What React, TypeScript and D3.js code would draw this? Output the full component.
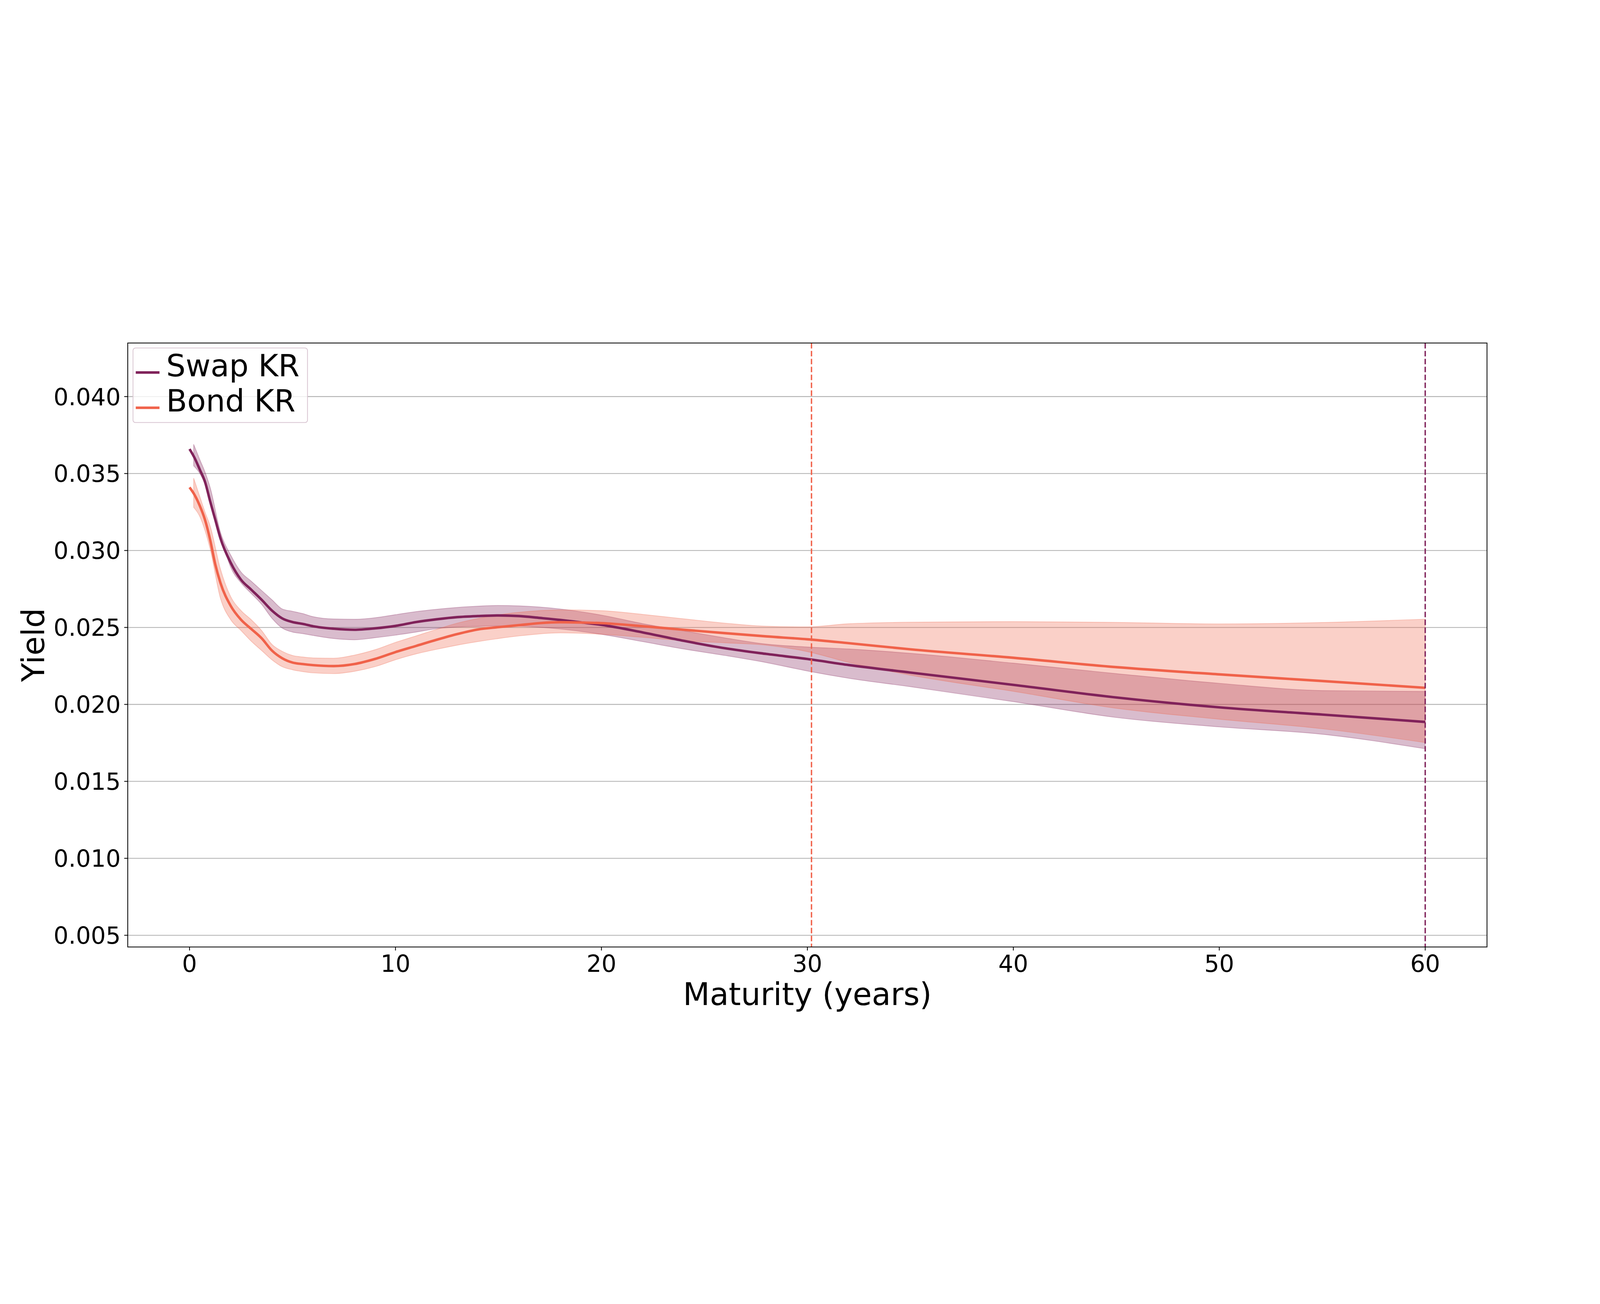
import React from 'react';
import * as d3 from 'd3';

// maturities (years) for the central curves
const lineMaturity = [0, 0.25, 0.5, 0.75, 1, 1.25, 1.5, 2, 2.5, 3, 3.5, 4, 4.5, 5, 5.5, 6, 7, 8, 9, 10, 11, 12, 13, 14, 15, 16, 17, 18, 19, 20, 22, 24, 26, 28, 30, 32, 35, 40, 45, 50, 55, 60];
const swapYield = [0.03659, 0.0360, 0.03525, 0.03447, 0.0332, 0.0320, 0.0308, 0.0292, 0.0281, 0.02745, 0.0268, 0.0261, 0.02559, 0.02535, 0.02523, 0.02508, 0.02492, 0.02485, 0.02494, 0.0251, 0.02535, 0.02553, 0.02567, 0.02574, 0.02578, 0.02574, 0.02562, 0.02549, 0.02533, 0.02517, 0.02468, 0.02413, 0.02365, 0.02328, 0.02295, 0.02256, 0.02207, 0.02127, 0.02045, 0.01981, 0.01934, 0.01886];
const bondYield = [0.0341, 0.0336, 0.0329, 0.0320, 0.0307, 0.0291, 0.0279, 0.0264, 0.0255, 0.0249, 0.0243, 0.0235, 0.0230, 0.02272, 0.02262, 0.02255, 0.02249, 0.02262, 0.02295, 0.0234, 0.0238, 0.0242, 0.02457, 0.02487, 0.02502, 0.02515, 0.02528, 0.02534, 0.02532, 0.02528, 0.02508, 0.02485, 0.02463, 0.02442, 0.02423, 0.02398, 0.02358, 0.02303, 0.02242, 0.02195, 0.02152, 0.02108];

// maturities for the uncertainty bands
const bandMaturity = [0.2, 0.5, 0.75, 1, 1.5, 2, 2.5, 3, 3.5, 4, 4.5, 5, 5.5, 6, 7, 8, 9, 10, 11, 12, 13, 14, 15, 16, 18, 20, 22, 24, 26, 28, 30, 32, 35, 40, 45, 50, 55, 60];
const swapUpper = [0.0369, 0.0359, 0.0351, 0.0341, 0.0312, 0.0297, 0.0286, 0.0280, 0.0274, 0.0268, 0.0262, 0.02605, 0.0259, 0.0257, 0.02555, 0.02553, 0.02563, 0.02583, 0.02603, 0.02618, 0.0263, 0.02638, 0.02643, 0.0264, 0.0262, 0.0258, 0.02525, 0.02478, 0.02432, 0.02392, 0.02373, 0.0236, 0.02332, 0.02268, 0.022, 0.02137, 0.0209, 0.02084];
const swapLower = [0.0355, 0.035, 0.0343, 0.0333, 0.031, 0.0289, 0.0279, 0.0272, 0.0265, 0.0256, 0.02496, 0.0247, 0.0246, 0.02448, 0.02428, 0.0242, 0.02433, 0.0245, 0.0247, 0.02492, 0.02503, 0.02507, 0.0251, 0.02508, 0.0249, 0.02455, 0.02408, 0.0236, 0.02318, 0.02272, 0.02217, 0.0217, 0.02115, 0.02018, 0.01915, 0.01854, 0.01806, 0.01712];
const bondUpper = [0.0347, 0.0335, 0.0325, 0.0316, 0.0288, 0.027, 0.0261, 0.0255, 0.0248, 0.0239, 0.02345, 0.02318, 0.02308, 0.02302, 0.023, 0.0232, 0.02355, 0.02403, 0.02445, 0.02488, 0.02528, 0.02558, 0.02582, 0.02598, 0.02614, 0.02609, 0.02585, 0.02556, 0.02528, 0.02508, 0.02504, 0.02524, 0.02534, 0.02538, 0.02533, 0.02523, 0.02532, 0.02554];
const bondLower = [0.0328, 0.0322, 0.0313, 0.0301, 0.0269, 0.0255, 0.0248, 0.0241, 0.0235, 0.0229, 0.02245, 0.02225, 0.02213, 0.02205, 0.022, 0.02215, 0.02245, 0.0229, 0.02328, 0.02358, 0.02385, 0.02408, 0.02428, 0.02445, 0.02465, 0.02456, 0.02436, 0.02414, 0.024, 0.02385, 0.02343, 0.02273, 0.0219, 0.02085, 0.01975, 0.01904, 0.01842, 0.01752];

const seriesNames = ['Swap KR', 'Bond KR'];
const seriesColors = ['#80225a', '#f0624a'];
const refMaturities = [30.2, 60];
const xTicks = [0, 10, 20, 30, 40, 50, 60];
const yTicks = [0.005, 0.01, 0.015, 0.02, 0.025, 0.03, 0.035, 0.04];

const W = 6400;
const H = 3337;
const left = 511, right = 5948, top = 433, bottom = 2848;
const FONT = 'DejaVu Sans';

const App: React.FC = () => {
  const x = d3.scaleLinear().domain([-3, 63]).range([left, right]);
  const y = d3.scaleLinear().domain([0.00424, 0.04348]).range([bottom, top]);
  const fmt = d3.format('.3f');

  const line = d3.line<[number, number]>()
    .x(d => x(d[0]))
    .y(d => y(d[1]))
    .curve(d3.curveMonotoneX);

  const area = d3.area<[number, number, number]>()
    .x(d => x(d[0]))
    .y0(d => y(d[1]))
    .y1(d => y(d[2]))
    .curve(d3.curveMonotoneX);

  const lines = [swapYield, bondYield].map(vals => lineMaturity.map((m, i) => [m, vals[i]] as [number, number]));
  const bands = [[swapLower, swapUpper], [bondLower, bondUpper]].map(([lo, hi]) =>
    bandMaturity.map((m, i) => [m, lo[i], hi[i]] as [number, number, number]));

  return (
    <svg viewBox={`0 0 ${W} ${H}`} preserveAspectRatio="xMidYMid meet"
      style={{ position: 'absolute', left: 0, top: 0, width: '100vw', height: '100vh', background: '#fff' }}
      fontFamily={FONT}>
      <rect x={0} y={0} width={W} height={H} fill="#fff" />
      <defs>
        <clipPath id="plot">
          <rect x={left} y={top} width={right - left} height={bottom - top} />
        </clipPath>
      </defs>

      {/* horizontal grid */}
      {yTicks.map(t => (
        <line key={t} x1={left} x2={right} y1={y(t)} y2={y(t)} stroke="#b0b0b0" strokeWidth={3.2} />
      ))}

      <g clipPath="url(#plot)">
        {bands.map((b, i) => (
          <path key={i} d={area(b) || ''} fill={seriesColors[i]} fillOpacity={0.3}
            stroke={seriesColors[i]} strokeOpacity={0.3} strokeWidth={3} />
        ))}
        {lines.map((l, i) => (
          <path key={i} d={line(l) || ''} fill="none" stroke={seriesColors[i]} strokeWidth={10} />
        ))}
        {refMaturities.map((m, i) => (
          <line key={i} x1={x(m)} x2={x(m)} y1={top} y2={bottom} stroke={seriesColors[1 - i]}
            strokeWidth={5.5} strokeDasharray="22,9.6" />
        ))}
      </g>

      {/* spines */}
      <rect x={left} y={top} width={right - left} height={bottom - top} fill="none" stroke="#000" strokeWidth={3.2} />

      {/* x axis */}
      {xTicks.map(t => (
        <g key={t}>
          <line x1={x(t)} x2={x(t)} y1={bottom} y2={bottom + 14} stroke="#000" strokeWidth={3.2} />
          <text x={x(t)} y={bottom + 28} dy="0.76em" textAnchor="middle" fontSize={94} fill="#000">{t}</text>
        </g>
      ))}
      <text x={(left + right) / 2} y={3080} textAnchor="middle" fontSize={124} fill="#000">Maturity (years)</text>

      {/* y axis */}
      {yTicks.map(t => (
        <g key={t}>
          <line x1={left - 14} x2={left} y1={y(t)} y2={y(t)} stroke="#000" strokeWidth={3.2} />
          <text x={left - 28} y={y(t)} dy="0.36em" textAnchor="end" fontSize={94} fill="#000">{fmt(t)}</text>
        </g>
      ))}
      <text transform={`translate(177,${(top + bottom) / 2}) rotate(-90)`} textAnchor="middle" fontSize={124} fill="#000">Yield</text>

      {/* legend */}
      <g>
        <rect x={532} y={453} width={698} height={298} rx={10} fill="#fff" fillOpacity={0.8}
          stroke="#d9c6d2" strokeWidth={3.2} />
        {seriesNames.map((name, i) => (
          <g key={name}>
            <line x1={543} x2={638} y1={551 + i * 141} y2={551 + i * 141} stroke={seriesColors[i]} strokeWidth={10} />
            <text x={665} y={566 + i * 141} fontSize={122} fill="#000">{name}</text>
          </g>
        ))}
      </g>
    </svg>
  );
};

export default App;
